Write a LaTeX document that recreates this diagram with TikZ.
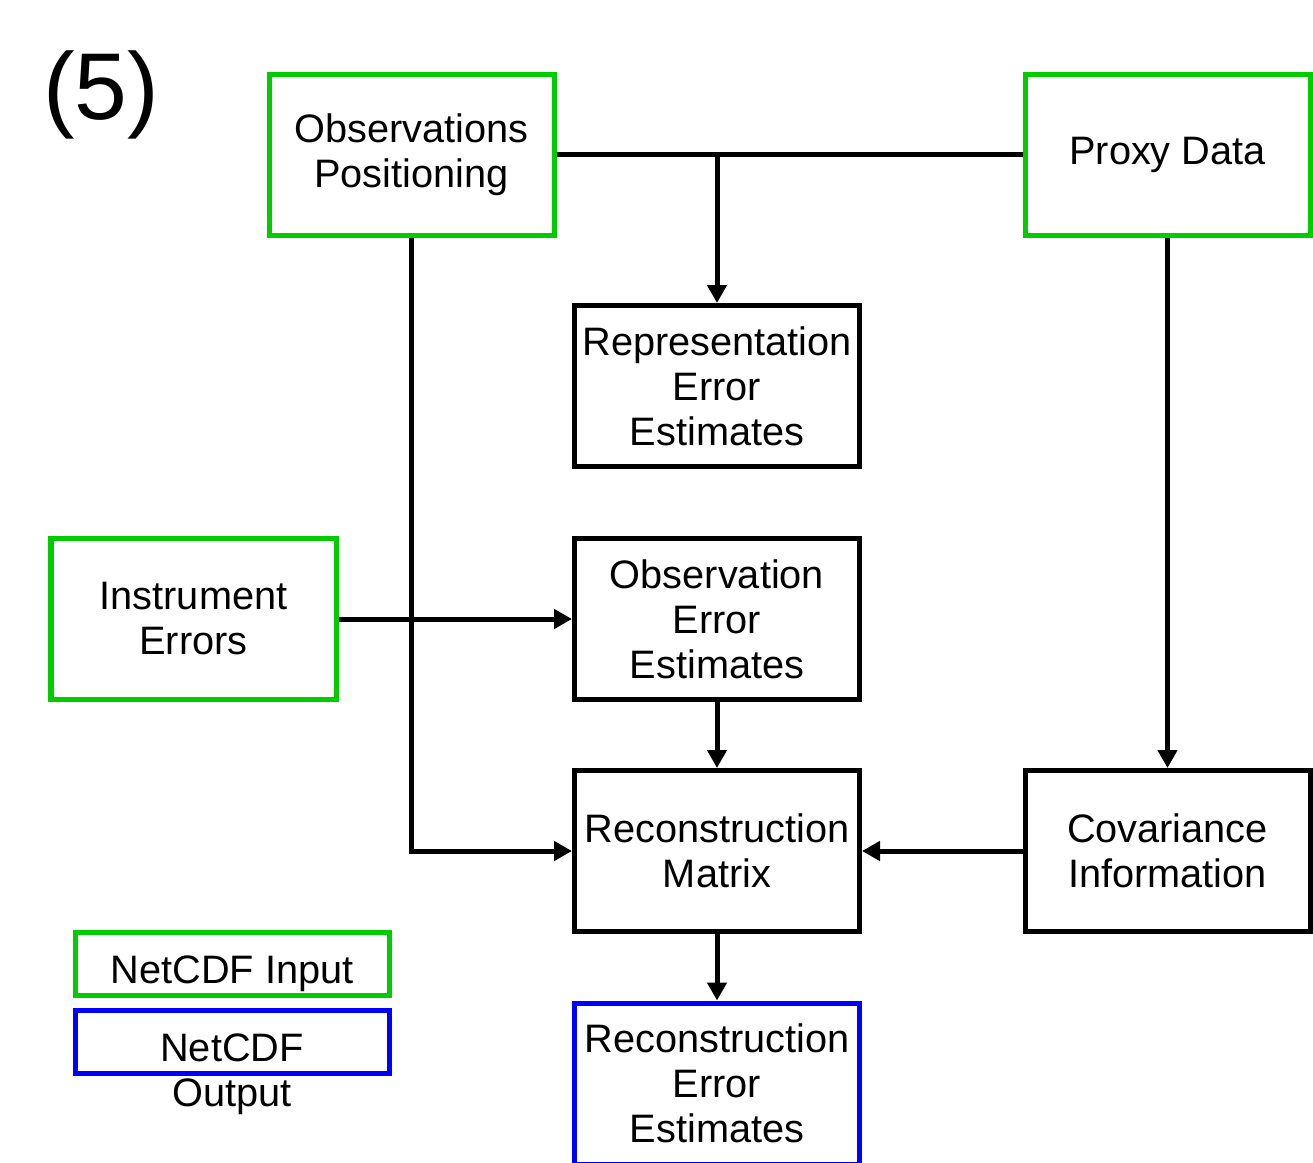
\documentclass[tikz,border=0pt]{standalone}
\usepackage{fontspec}
\setmainfont{Liberation Sans}
\usepackage{xcolor}
\usetikzlibrary{arrows.meta, positioning, calc}
\definecolor{ingreen}{RGB}{0,204,0}
\definecolor{outblue}{RGB}{0,0,255}

\begin{document}
\begin{tikzpicture}[
    every node/.style={font=\fontsize{11.3}{12.8}\selectfont, align=center},
    box/.style={draw, line width=0.05cm, minimum width=2.85cm, minimum height=1.61cm, inner sep=1pt},
    inbox/.style={box, draw=ingreen},
    outbox/.style={box, draw=outblue},
    link/.style={line width=0.05cm},
    arr/.style={link, -{Triangle[length=0.18cm,width=0.19cm]}}
  ]
    \useasboundingbox (0,0) rectangle (13.13,-11.62);

    \node at (1.01,-0.95) (tag) {\fontsize{27}{30}\selectfont (5)};

    % inputs
    \node[inbox] at (4.115,-1.545) (obs) {Observations\\Positioning};
    \node[inbox] at (11.675,-1.545) (proxy) {Proxy Data};
    \node[inbox] at (1.935,-6.19) (inst) {Instrument\\Errors};

    % processing
    \node[box] at (7.17,-3.86) (repr) {Representation\\Error\\Estimates};
    \node[box] at (7.17,-6.19) (obserr) {Observation\\Error\\Estimates};
    \node[box] at (7.17,-8.51) (recon) {Reconstruction\\Matrix};
    \node[box] at (11.675,-8.51) (cov) {Covariance\\Information};

    % output
    \node[outbox] at (7.17,-10.835) (recerr) {Reconstruction\\Error\\Estimates};

    % legend
    \node[inbox, minimum width=3.14cm, minimum height=0.63cm] at (2.32,-9.64) (legin) {};
    \node at (2.32,-9.74) (legintext) {NetCDF Input};
    \node[outbox, minimum width=3.14cm, minimum height=0.63cm] at (2.32,-10.42) (legout) {};
    \node at (2.32,-10.74) (legouttext) {NetCDF\\Output};

    % connections
    \draw[link] (obs.east) -- (proxy.west);
    \draw[arr] (repr.north |- obs.east) -- (repr.north);
    \draw[arr] (obs.south) |- (recon.west);
    \draw[arr] (inst.east) -- (obserr.west);
    \draw[arr] (obserr) -- (recon);
    \draw[arr] (proxy) -- (cov);
    \draw[arr] (cov) -- (recon);
    \draw[arr] (recon) -- (recerr);

  \end{tikzpicture}
\end{document}
